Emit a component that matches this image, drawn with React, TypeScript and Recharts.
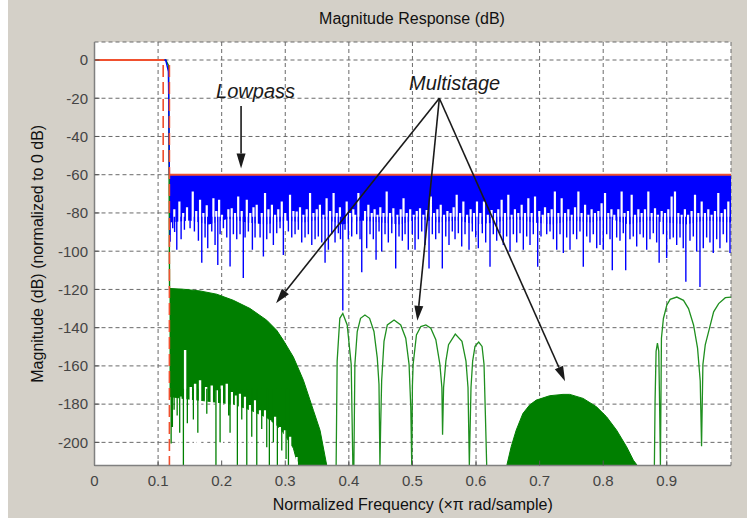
import {
  ComposedChart,
  Line,
  Area,
  XAxis,
  YAxis,
  CartesianGrid,
  ReferenceLine,
  ReferenceDot,
  Label,
} from "recharts";

const FONT = '"Liberation Sans", Arial, Helvetica, sans-serif';
const FLOOR = -212.1;

const X_TICKS = [0, 0.1, 0.2, 0.3, 0.4, 0.5, 0.6, 0.7, 0.8, 0.9];
const Y_TICKS = [0, -20, -40, -60, -80, -100, -120, -140, -160, -180, -200];

// red spec mask
const maskPassFreq = [0, 0.11];
const maskPassDb = [0, 0];
const maskStopFreq = [0.1178, 1.001];
const maskStopDb = [-60, -60];
const maskEdgeFreq = [0.108, 0.1178];
const maskEdgeTop = [-2.6, -2.6];
const maskEdgeBottom = [-54, FLOOR];

// blue: lowpass
const lpPassFreq = [0, 0.112, 0.1163, 0.1178];
const lpPassDb = [0, 0, -6, -60];
const lpCoreFreq = [0.1178, 0.15, 0.18, 0.21, 0.24, 0.27, 0.3, 0.33, 0.36, 0.39, 0.42, 0.45, 0.48, 0.51, 0.54, 0.57, 0.6, 0.63, 0.66, 0.69, 0.72, 0.75, 0.78, 0.81, 0.84, 0.87, 0.9, 0.93, 0.96, 1.001];
const lpCoreTop = lpCoreFreq.map(() => -60);
const lpCoreBottom = [-85, -84, -86, -83, -85, -86, -84, -85, -83, -86, -84, -85, -86, -83, -85, -84, -86, -85, -83, -85, -86, -84, -85, -83, -86, -84, -85, -86, -84, -85];
const lpSpikeFreq = [
  0.119, 0.123, 0.126, 0.1294, 0.1362, 0.1414, 0.1503, 0.1571, 0.1634, 0.1687, 0.1739, 0.1781, 0.1844,
  0.1896, 0.1939, 0.1975, 0.2027, 0.208, 0.2132, 0.2184, 0.2237, 0.2289, 0.234, 0.2368, 0.242, 0.2483,
  0.2525, 0.2604, 0.2656, 0.2709, 0.2761, 0.2813, 0.2866, 0.2918, 0.297, 0.3049, 0.3102, 0.3154, 0.3206,
  0.3259, 0.3311, 0.3363, 0.3417, 0.3469, 0.352, 0.3574, 0.3626, 0.3678, 0.3731, 0.3783, 0.3835, 0.3868,
  0.3905, 0.394, 0.3992, 0.4045, 0.4124, 0.4176, 0.4203, 0.4281, 0.4333, 0.4385, 0.4428, 0.4475, 0.4517,
  0.4569, 0.4621, 0.4675, 0.4737, 0.4789, 0.4841, 0.4884, 0.4935, 0.4998, 0.5041, 0.5093, 0.5146, 0.5198,
  0.5261, 0.5313, 0.5366, 0.5418, 0.547, 0.5524, 0.5575, 0.5627, 0.567, 0.5722, 0.5775, 0.5827, 0.589,
  0.5942, 0.5995, 0.6036, 0.6099, 0.6152, 0.622, 0.6272, 0.6325, 0.6377, 0.6429, 0.6482, 0.6535, 0.6587,
  0.664, 0.6692, 0.6744, 0.6797, 0.6849, 0.6901, 0.697, 0.7022, 0.7112, 0.7164, 0.7216, 0.7269, 0.7321,
  0.7373, 0.7426, 0.7478, 0.753, 0.7583, 0.7635, 0.7687, 0.7741, 0.7792, 0.7844, 0.7898, 0.795, 0.8002,
  0.8055, 0.8107, 0.8143, 0.8212, 0.8264, 0.8316, 0.8354, 0.8421, 0.8473, 0.8527, 0.8579, 0.8631, 0.8684,
  0.8736, 0.8788, 0.8841, 0.888, 0.8945, 0.8998, 0.905, 0.9102, 0.9156, 0.9208, 0.9259, 0.93, 0.9365,
  0.9417, 0.947, 0.9522, 0.9574, 0.9627, 0.9679, 0.9731, 0.9785, 0.9836, 0.9888, 0.9942, 0.9994,
];
const lpSpikeDb = [
  -95, -88, -90, -99.3, -93.7, -88.8, -88, -89.7, -94.6, -106, -92.9, -98.4, -89.7,
  -96.7, -107.2, -91.1, -88, -92.9, -108, -91.1, -93.7, -91.1, -114, -92.9, -89.7, -99.3,
  -92.9, -92.9, -102.8, -93.7, -90.6, -96.7, -90.6, -88, -102, -89.7, -92.9, -91.1, -88.8,
  -95.4, -92.9, -91.1, -96.7, -93.7, -92.3, -95.4, -106, -99.3, -91.1, -95.4, -90.6, -93.7,
  -131, -88.8, -93.7, -92.3, -91.1, -93.7, -111, -98.4, -91.1, -93.7, -104.5, -89.7, -100.1,
  -91.1, -95.4, -90.6, -109, -92.3, -94.6, -91.1, -99.3, -91.1, -99.3, -93.7, -89.7, -96.7,
  -109, -91.1, -93.7, -90.6, -109, -92.3, -96.7, -89.7, -93.7, -90.6, -97.5, -91.1, -99.3,
  -89.7, -92.9, -98.4, -90.6, -95.4, -108.1, -91.1, -94.6, -90.6, -96.7, -92.3, -100.1, -91.1,
  -95.4, -90.6, -99.3, -92.3, -96.7, -91.1, -108.1, -92.3, -91.1, -89.7, -93.7, -99.3, -91.1,
  -101, -92.9, -99.3, -91.1, -93.7, -89.7, -108.1, -92.3, -95.4, -91.1, -98.4, -96.7, -99.3,
  -91.1, -93.7, -110, -92.9, -94.6, -90.6, -110, -93.7, -92.3, -97.5, -91.1, -92.9, -99.3,
  -93.7, -90.6, -95.4, -106, -91.1, -103.6, -93.7, -92.9, -96.7, -92.9, -98.4, -116, -94.6,
  -92.3, -100.1, -118.7, -98.4, -92.9, -95.4, -101, -93.7, -98.4, -91.1, -95.4, -101,
];
const lpNotchFreq = [
  0.1255, 0.1335, 0.1395, 0.1455, 0.1545, 0.16, 0.166, 0.1712, 0.1765, 0.187, 0.1915, 0.196, 0.2005,
  0.2105, 0.2158, 0.221, 0.226, 0.2315, 0.2395, 0.245, 0.25, 0.2551, 0.263, 0.2682, 0.2735, 0.279,
  0.284, 0.289, 0.2945, 0.3, 0.3075, 0.3128, 0.318, 0.3232, 0.3285, 0.3337, 0.339, 0.3443, 0.3495,
  0.3545, 0.36, 0.365, 0.3705, 0.376, 0.381, 0.386, 0.3966, 0.402, 0.407, 0.41, 0.415, 0.4255, 0.4307,
  0.436, 0.4405, 0.445, 0.4495, 0.4545, 0.4595, 0.4648, 0.47, 0.4763, 0.4815, 0.486, 0.491, 0.4965,
  0.502, 0.5068, 0.5119, 0.5172, 0.5224, 0.529, 0.534, 0.5392, 0.5445, 0.5497, 0.555, 0.56, 0.5648,
  0.5696, 0.575, 0.5801, 0.586, 0.5915, 0.5968, 0.6015, 0.6068, 0.6125, 0.6185, 0.6245, 0.63, 0.635,
  0.6403, 0.6455, 0.6508, 0.656, 0.6612, 0.6665, 0.6718, 0.677, 0.6823, 0.6875, 0.6928, 0.6995, 0.7048,
  0.7085, 0.7138, 0.719, 0.724, 0.7295, 0.7347, 0.74, 0.7452, 0.7505, 0.7557, 0.761, 0.766, 0.7715,
  0.7767, 0.7818, 0.787, 0.7924, 0.7975, 0.8029, 0.808, 0.813, 0.8175, 0.8238, 0.829, 0.8335, 0.839,
  0.8448, 0.85, 0.8553, 0.8605, 0.8657, 0.871, 0.8762, 0.8815, 0.886, 0.892, 0.8972, 0.9024, 0.9076,
  0.9129, 0.9182, 0.9234, 0.9285, 0.9335, 0.939, 0.9444, 0.9496, 0.9549, 0.96, 0.9653, 0.9705, 0.9758,
  0.981, 0.9862, 0.9915, 0.9968,
];
const lpNotchDb = [
  -78, -74, -80, -77, -68.8, -79, -73.1, -80, -76, -72.3, -79, -73.1, -81,
  -78, -77.5, -80, -71.4, -79, -73.1, -80, -77, -75.7, -80, -69.6, -78, -75.7,
  -81, -78, -74, -80, -70.5, -79, -79.2, -77, -81, -78, -69.6, -80, -78,
  -75.7, -81, -72.3, -79, -69.6, -80, -77, -74, -80, -78, -81, -69.6, -79, -75.7,
  -80, -78, -81, -77, -80, -68.8, -80, -77.5, -81, -78, -72.3, -80, -78,
  -81, -79, -77.5, -81, -78.4, -71.4, -80, -78, -75.7, -81, -79, -80, -77,
  -70.5, -80, -74, -81, -78, -80, -74, -80, -74, -81, -78.4, -80, -78,
  -73.1, -80, -70.5, -81, -78, -80, -75.7, -80, -72.3, -80, -71.4, -79, -81,
  -77, -80, -78, -68.8, -80, -72.3, -80, -78, -81, -77, -68.8, -80, -75.7,
  -81, -78, -80, -79, -74.9, -69.6, -80, -78, -81, -78, -68.8, -80, -79,
  -70.5, -81, -78, -80, -78, -68.8, -80, -77.5, -81, -79, -80, -78, -71.4,
  -68.8, -80, -80.9, -78, -81, -79, -70.5, -80, -74, -80, -78, -81, -79,
  -69.6, -80, -78, -74,
];

// green: multistage
const msPassFreq = [0, 0.112, 0.1165, 0.1172, 0.118];
const msPassDb = [0, 0, -3, -47, -119.5];
const msLobe1Freq = [0.118, 0.1398, 0.166, 0.1923, 0.2184, 0.2447, 0.2709, 0.2866, 0.297, 0.3127, 0.32, 0.3285, 0.3442, 0.3547, 0.3653];
const msLobe1Top = [-119.5, -119.9, -120.8, -122.5, -125.7, -130, -136.1, -141.4, -146.6, -155.3, -160.9, -167.5, -183.2, -193.7, FLOOR];
const msLobe1Bottom = [-176, -177, -178, -179, -180, -183, -187, -191, -195, -203, FLOOR, FLOOR, FLOOR, FLOOR, FLOOR];
const msLobe1NotchFreq = [
  0.129, 0.135, 0.1425, 0.1514, 0.1582, 0.166, 0.1755, 0.1844, 0.1923, 0.2002, 0.208, 0.2159, 0.2226,
  0.2289, 0.2368, 0.2447, 0.2526, 0.2604, 0.2683, 0.2761, 0.284, 0.2919, 0.2997, 0.3076, 0.3181,
];
const msLobe1NotchDb = [
  -178, -176, -151.7, -171.1, -169.3, -167.5, -171.1, -170.2, -172.8, -170.2, -169.3, -173.7, -175.5,
  -174.6, -176.2, -180.5, -178, -183.2, -183.2, -188.4, -186.6, -191.9, -193.6, -197.1, -207.6,
];
const msLobe1SpikeFreq = [
  0.1205, 0.1225, 0.1252, 0.13, 0.134, 0.1398, 0.146, 0.1555, 0.1625, 0.1766, 0.191, 0.1975, 0.211,
  0.2132, 0.2247, 0.2316, 0.2395, 0.2473, 0.2552, 0.263, 0.2709, 0.275, 0.2813, 0.2876, 0.2945, 0.3013,
  0.305, 0.3206,
];
const msLobe1SpikeDb = [
  -200.6, -192, -183, -186, -195, FLOOR, -190, -188, -195, -185, FLOOR, -200, -186,
  -195, FLOOR, -188, FLOOR, -197, FLOOR, -193, -202.6, FLOOR, -200, FLOOR, -204.3, -208.7,
  FLOOR, -210,
];
const msMidFreq = [
  0.38, 0.3816, 0.3858, 0.3905, 0.3974, 0.4037, 0.4063, 0.4079, 0.4095, 0.4132, 0.4184, 0.4253, 0.4326,
  0.4395, 0.4447, 0.4474, 0.4489, 0.45, 0.4516, 0.4553, 0.4605, 0.4711, 0.4816, 0.4895, 0.4947, 0.4974,
  0.4989, 0.5, 0.5011, 0.5063, 0.5132, 0.5211, 0.5289, 0.5368, 0.5432, 0.5463, 0.5474, 0.549, 0.5526,
  0.5568, 0.5674, 0.5779, 0.5842, 0.5874, 0.5895, 0.5921, 0.5947, 0.5984, 0.6042, 0.6095, 0.6126,
  0.6147, 0.6168,
];
const msMidDb = [
  FLOOR, -157.5, -135.1, -132.6, -138.6, -159.2, FLOOR, FLOOR, -159.2, -142, -135.1, -133.4, -135.1,
  -142, -155.8, -169.6, FLOOR, -191.9, -167.8, -147.2, -138.6, -136, -138.6, -145.5, -159.2, -181.6,
  FLOOR, -170, -159.2, -143.8, -139.4, -138.6, -140.3, -146.3, -159.2, -171.3, -196, -171.3, -157.5,
  -148.9, -143.4, -147.2, -157.5, -171.3, FLOOR, -171.3, -157.5, -149.8, -147.5, -149.8, -159.2,
  -185.1, FLOOR,
];
const msLobe3Freq = [0.6484, 0.6553, 0.6632, 0.6737, 0.6842, 0.6947, 0.7158, 0.7368, 0.7474, 0.7684, 0.7895, 0.8053, 0.8211, 0.8368, 0.8474, 0.8537];
const msLobe3Top = [FLOOR, -202.3, -193.6, -184.9, -180.5, -177.9, -175.6, -174.9, -174.9, -177, -181.4, -186.6, -193.6, -202.3, -209.3, FLOOR];
const msHighFreq = [
  0.8805, 0.8816, 0.8832, 0.8853, 0.8874, 0.8884, 0.89, 0.8916, 0.8947, 0.9, 0.9053, 0.9158, 0.9263,
  0.9342, 0.9421, 0.9484, 0.9526, 0.9547, 0.9568, 0.9605, 0.9658, 0.9737, 0.9816, 0.9921, 1.001,
];
const msHighDb = [
  FLOOR, -178.3, -152.4, -148.1, -152.4, -173.1, FLOOR, -145.5, -135.2, -128.3, -125.2, -124, -125.7,
  -130, -138.6, -150.7, -167.9, -202, -159.3, -149, -142.1, -131.7, -127.4, -124.3, -124,
];

// annotations
const noteText = ["Lowpass", "Multistage"];
const noteFreq = [0.1912, 0.4947];
const noteDb = [-20, -15.7];
const arrowFromFreq = [0.2305, 0.5423, 0.5423, 0.5423];
const arrowFromDb = [-24.1, -20, -20, -20];
const arrowToFreq = [0.2305, 0.2855, 0.5077, 0.74];
const arrowToDb = [-56.7, -127.2, -136.4, -168];

type Row = { f: number; v: number | number[] | null };

const line = (fs: number[], vs: number[]): Row[] => fs.map((f, i) => ({ f, v: vs[i] }));
const band = (fs: number[], lo: number[], hi: number[]): Row[] =>
  fs.map((f, i) => ({ f, v: [lo[i], hi[i]] }));
const sticks = (fs: number[], tips: number[], base: number | number[]): Row[] =>
  fs.flatMap((f, i) => [
    { f, v: Array.isArray(base) ? base[i] : base },
    { f, v: tips[i] },
    { f, v: null },
  ]);

const GREEN = "#007f00";
const THIN_GREEN = "#1f8f1f";
const BLUE = "#0000ff";
const RED = "#f0502e";

const Arrow = (p: any) => {
  const { x1, y1, x2, y2 } = p;
  const a = Math.atan2(y2 - y1, x2 - x1);
  const len = 15;
  const half = 4.5;
  const bx = x2 - len * Math.cos(a);
  const by = y2 - len * Math.sin(a);
  const px = -Math.sin(a) * half;
  const py = Math.cos(a) * half;
  return (
    <g>
      <line x1={x1} y1={y1} x2={bx} y2={by} stroke="#1a1a1a" strokeWidth={1.6} />
      <polygon points={`${x2},${y2} ${bx + px},${by + py} ${bx - px},${by - py}`} fill="#1a1a1a" />
    </g>
  );
};

const lineProps = {
  dataKey: "v",
  dot: false,
  activeDot: false,
  isAnimationActive: false,
  connectNulls: false,
  type: "linear" as const,
};

const areaProps = {
  dataKey: "v",
  type: "linear" as const,
  fillOpacity: 1,
  isAnimationActive: false,
  dot: false,
  activeDot: false,
};

export default function App() {
  return (
    <div style={{ position: "absolute", left: 0, top: 0, width: 747, height: 518, background: "#fff", fontFamily: FONT }}>
      <div style={{ position: "absolute", left: 8, top: 0, width: 739, height: 518, background: "#d4d0c8" }} />
      <div
        style={{
          position: "absolute",
          left: 262,
          top: 9,
          width: 300,
          textAlign: "center",
          fontSize: 16,
          lineHeight: "20px",
          color: "#111",
        }}
      >
        Magnitude Response (dB)
      </div>
      <div style={{ position: "absolute", left: 0, top: 0 }}>
        <ComposedChart width={747} height={518} margin={{ top: 42, right: 16, bottom: 0, left: 0 }}>
          <CartesianGrid fill="#ffffff" stroke="#6a6a6a" strokeDasharray="4 3" />
          <XAxis
            type="number"
            dataKey="f"
            domain={[0, 1.001]}
            allowDataOverflow
            ticks={X_TICKS}
            height={52.5}
            tickSize={-5}
            tickMargin={15}
            axisLine={{ stroke: "#808080", strokeWidth: 1.5 }}
            tickLine={{ stroke: "#555" }}
            tick={{ fill: "#444", fontSize: 15, fontFamily: FONT }}
            interval={0}
          >
            <Label
              content={(p: any) => {
                const vb = p.viewBox || { x: 0, y: 465.5, width: 636, height: 52 };
                return (
                  <text x={vb.x + vb.width / 2} y={vb.y + 44.5} textAnchor="middle" fontSize={16} fontFamily={FONT} fill="#111">
                    Normalized Frequency (×π rad/sample)
                  </text>
                );
              }}
            />
          </XAxis>
          <XAxis
            xAxisId="top"
            orientation="top"
            type="number"
            dataKey="f"
            domain={[0, 1.001]}
            allowDataOverflow
            ticks={X_TICKS}
            height={0}
            tickSize={-5}
            tick={false}
            axisLine={{ stroke: "#808080", strokeWidth: 1.5 }}
            tickLine={{ stroke: "#555" }}
          />
          <YAxis
            type="number"
            domain={[FLOOR, 9.42]}
            allowDataOverflow
            ticks={Y_TICKS}
            width={94.5}
            tickSize={-5}
            tickMargin={11.5}
            axisLine={{ stroke: "#808080", strokeWidth: 1.5 }}
            tickLine={{ stroke: "#555" }}
            tick={{ fill: "#444", fontSize: 15, fontFamily: FONT }}
            interval={0}
          >
            <Label
              content={(p: any) => {
                const vb = p.viewBox || { x: 0, y: 42, width: 94.5, height: 423.5 };
                const cx = vb.x + 37;
                const cy = vb.y + vb.height / 2;
                return (
                  <text
                    x={cx}
                    y={cy}
                    transform={`rotate(-90 ${cx} ${cy})`}
                    textAnchor="middle"
                    dominantBaseline="central"
                    fontSize={16}
                    fontFamily={FONT}
                    fill="#111"
                  >
                    Magnitude (dB) (normalized to 0 dB)
                  </text>
                );
              }}
            />
          </YAxis>
          <YAxis
            yAxisId="right"
            orientation="right"
            type="number"
            domain={[FLOOR, 9.42]}
            allowDataOverflow
            ticks={Y_TICKS}
            width={0}
            tickSize={-5}
            tick={false}
            axisLine={{ stroke: "#808080", strokeWidth: 1.5 }}
            tickLine={{ stroke: "#555" }}
          />

          {/* multistage (green) */}
          <Area {...areaProps} data={band(msLobe1Freq, msLobe1Bottom, msLobe1Top)} stroke={GREEN} strokeWidth={1} fill={GREEN} />
          <Line {...lineProps} data={sticks(msLobe1NotchFreq, msLobe1NotchDb, FLOOR)} stroke="#ffffff" strokeWidth={2.4} />
          <Line {...lineProps} data={sticks(msLobe1SpikeFreq, msLobe1SpikeDb, -172)} stroke={GREEN} strokeWidth={1.3} />
          <Area
            {...areaProps}
            data={band(msLobe3Freq, msLobe3Freq.map(() => FLOOR), msLobe3Top)}
            stroke={GREEN}
            strokeWidth={1}
            fill={GREEN}
          />
          <Line {...lineProps} data={line(msMidFreq, msMidDb)} stroke={THIN_GREEN} strokeWidth={1.3} />
          <Line {...lineProps} data={line(msHighFreq, msHighDb)} stroke={THIN_GREEN} strokeWidth={1.3} />
          <Line {...lineProps} data={line(msPassFreq, msPassDb)} stroke={GREEN} strokeWidth={1.4} />

          {/* lowpass (blue) */}
          <Area {...areaProps} data={band(lpCoreFreq, lpCoreBottom, lpCoreTop)} stroke="none" fill={BLUE} />
          <Line {...lineProps} data={sticks(lpNotchFreq, lpNotchDb, -88)} stroke="#ffffff" strokeWidth={2.2} />
          <Line {...lineProps} data={sticks(lpSpikeFreq, lpSpikeDb, -82)} stroke={BLUE} strokeWidth={1.4} />
          <Line {...lineProps} data={line(lpPassFreq, lpPassDb)} stroke={BLUE} strokeWidth={1.4} />

          {/* mask (red) */}
          <Line {...lineProps} data={line(maskPassFreq, maskPassDb)} stroke={RED} strokeWidth={2} />
          <Line {...lineProps} data={line(maskStopFreq, maskStopDb)} stroke={RED} strokeWidth={2} />
          <Line
            {...lineProps}
            data={sticks(maskEdgeFreq, maskEdgeBottom, maskEdgeTop)}
            stroke={RED}
            strokeWidth={1.6}
            strokeDasharray="12 5"
          />

          {/* annotations */}
          {arrowFromFreq.map((f, i) => (
            <ReferenceLine
              key={`arrow-${i}`}
              segment={[
                { x: f, y: arrowFromDb[i] },
                { x: arrowToFreq[i], y: arrowToDb[i] },
              ]}
              shape={Arrow}
              ifOverflow="visible"
            />
          ))}
          {noteText.map((t, i) => (
            <ReferenceDot
              key={`note-${i}`}
              x={noteFreq[i]}
              y={noteDb[i]}
              r={0}
              ifOverflow="visible"
              shape={(p: any) => (
                <text x={p.cx} y={p.cy} fontSize={20} fontStyle="italic" fontFamily={FONT} fill="#1a1a1a">
                  {t}
                </text>
              )}
            />
          ))}
        </ComposedChart>
      </div>
    </div>
  );
}
